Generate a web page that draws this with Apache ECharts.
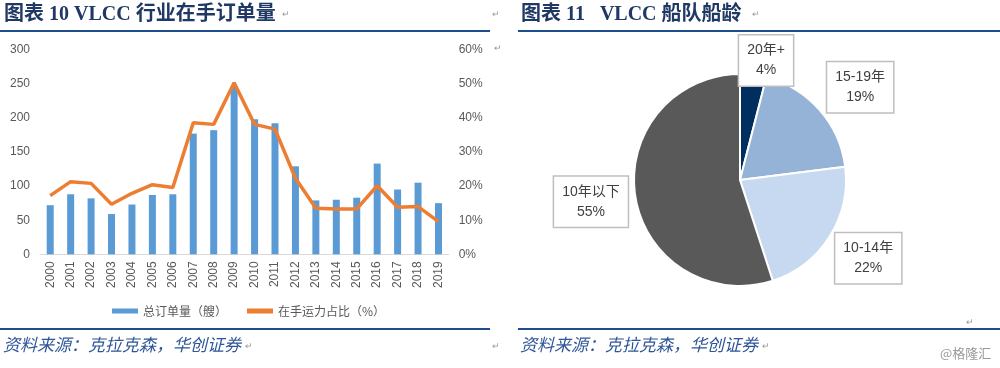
<!DOCTYPE html>
<html><head><meta charset="utf-8">
<script src="https://cdn.jsdelivr.net/npm/echarts/dist/echarts.min.js"></script>
<style>html,body{margin:0;padding:0;background:#fff}#c{width:1000px;height:368px}</style>
</head><body><div id="c"></div>
<script>
const years = ['2000','2001','2002','2003','2004','2005','2006','2007','2008','2009','2010','2011','2012','2013','2014','2015','2016','2017','2018','2019'];
const totalOrders = [72,88,82,59,73,87,88,177,182,246,198,192,129,79,80,83,133,95,105,75];
const onHandShare = [17.2,21.3,20.8,14.7,17.9,20.4,19.6,38.6,38.1,50.3,38.1,36.7,22.3,13.5,13.3,13.3,20.1,13.8,14.0,9.6];
const ageGroups = ['20年+','15-19年','10-14年','10年以下'];
const ageShares = [4,19,22,55];
const ageColors = ['#002F5F','#95B3D7','#C6D9F0','#595959'];
const labelNudge = [[-3.5,-4.5],[10.7,-32.7],[15.3,16],[-19.5,3.5]];

const chart = echarts.init(document.getElementById('c'), null, {renderer:'canvas'});
const titleFont = '"Liberation Serif","Noto Sans CJK SC",serif';
const navy = '#1F3864';
const lineBlue = '#1F4E8C';
const srcColor = '#2E5597';
function txt(x,y,text,style){return {type:'text',left:x,top:y,silent:true,style:Object.assign({text:text},style)};}
const mark = {fill:'#999',fontSize:9,font:'9px DejaVu Sans'};
chart.setOption({
  animation:false,
  textStyle:{fontFamily:'"Liberation Sans","Noto Sans CJK SC",sans-serif'},
  graphic:[
    txt(4,5,'图表 10 VLCC 行业在手订单量',{fill:navy,font:'bold 20px '+titleFont}),
    txt(282,10,'↵',mark), txt(492,10,'↵',mark),
    txt(521,5,'图表 11   VLCC 船队船龄',{fill:navy,font:'bold 20px '+titleFont}),
    txt(752,10,'↵',mark),
    {type:'rect',silent:true,shape:{x:0,y:30,width:490,height:2},style:{fill:lineBlue}},
    {type:'rect',silent:true,shape:{x:518,y:30,width:482,height:2},style:{fill:lineBlue}},
    {type:'rect',silent:true,shape:{x:0,y:328,width:490,height:2},style:{fill:lineBlue}},
    {type:'rect',silent:true,shape:{x:518,y:328,width:482,height:2},style:{fill:lineBlue}},
    txt(3,336,'资料来源：克拉克森，华创证券',{fill:srcColor,font:'italic 17px "Noto Sans CJK SC",sans-serif'}),
    txt(245,342,'↵',mark), txt(492,342,'↵',mark),
    txt(520,336,'资料来源：克拉克森，华创证券',{fill:srcColor,font:'italic 17px "Noto Sans CJK SC",sans-serif'}),
    txt(762,342,'↵',mark), txt(966,318,'↵',mark), txt(494,44,'↵',mark),
    txt(940,347,'@格隆汇',{fill:'#9a9a9a',font:'13px "Noto Sans CJK SC",sans-serif'})
  ],
  legend:{
    top:300, left:107, itemGap:20, itemWidth:26, itemHeight:5, icon:'rect',
    textStyle:{color:'#595959',fontSize:12,fontFamily:'"Noto Sans CJK SC",sans-serif'},
    data:['总订单量（艘）','在手运力占比（%）']
  },
  grid:{left:40,top:49.7,width:408.7,height:204.6},
  xAxis:{type:'category',data:years,
    axisLine:{lineStyle:{color:'#D9D9D9',width:1}},axisTick:{show:false},
    axisLabel:{rotate:90,color:'#595959',fontSize:12,margin:7,interval:0}},
  yAxis:[
    {type:'value',min:0,max:300,interval:50,splitLine:{show:false},axisLine:{show:false},axisTick:{show:false},
     axisLabel:{color:'#595959',fontSize:12,margin:10}},
    {type:'value',min:0,max:60,interval:10,splitLine:{show:false},axisLine:{show:false},axisTick:{show:false},
     axisLabel:{color:'#595959',fontSize:12,margin:10,formatter:'{value}%'}}
  ],
  series:[
    {name:'总订单量（艘）',type:'bar',data:totalOrders,barWidth:7,itemStyle:{color:'#5B9BD5'}},
    {name:'在手运力占比（%）',type:'line',yAxisIndex:1,data:onHandShare,symbol:'none',
     lineStyle:{color:'#ED7D31',width:3.5},itemStyle:{color:'#ED7D31'}},
    {type:'pie',center:[740,180],radius:106,startAngle:90,clockwise:true,
     data:ageGroups.map((g,i)=>({name:g,value:ageShares[i],itemStyle:{color:ageColors[i]}})),
     itemStyle:{borderColor:'#fff',borderWidth:2},
     label:{position:'outside',formatter:'{b}\n{c}%',color:'#404040',fontSize:14,lineHeight:20,
       fontFamily:'"Liberation Sans","Noto Sans CJK SC",sans-serif',
       backgroundColor:'#fff',borderColor:'#BFBFBF',borderWidth:1.5,padding:[5,8]},
     labelLine:{show:false,length:10,length2:10},
     labelLayout:p=>({align:'center',dx:labelNudge[p.dataIndex][0],dy:labelNudge[p.dataIndex][1]})
    }
  ]
});
</script></body></html>
